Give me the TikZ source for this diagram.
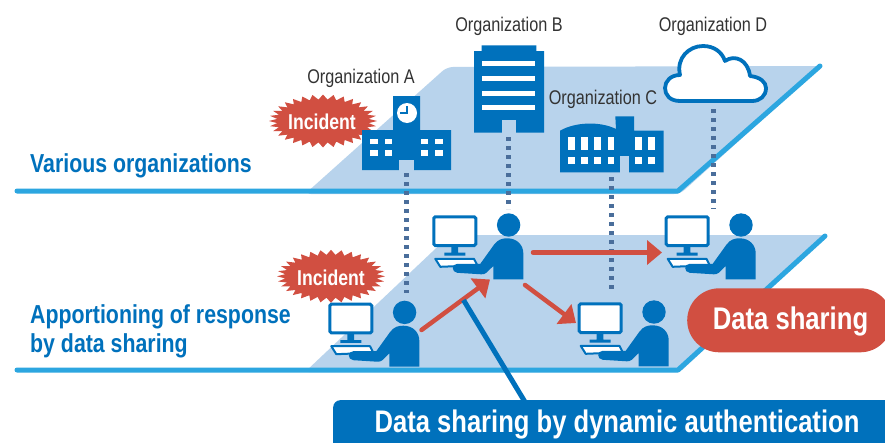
\documentclass[tikz,border=0pt]{standalone}
\usepackage{fontspec}
\setmainfont[FakeStretch=0.82]{Liberation Sans}
\usetikzlibrary{arrows.meta}
\definecolor{bluedark}{HTML}{0071BC}
\definecolor{bluelight}{HTML}{2CA6E0}
\definecolor{plane}{HTML}{B8D3EC}
\definecolor{redc}{HTML}{D14F41}
\definecolor{dotc}{HTML}{4A6E9B}
\definecolor{orgtext}{HTML}{333333}
\tikzset{
  x=1pt,y=-1pt,
  edgeline/.style={draw=bluelight,line width=5pt,line cap=round,line join=round},
  planefill/.style={fill=plane},
  dotline/.style={draw=dotc,line width=5pt,dash pattern=on 4pt off 5pt},
  redarrow/.style={draw=redc,line width=4.5pt,line cap=round,-{Triangle[length=15pt,width=24pt,fill=redc]}},
  orglabel/.style={text=orgtext,font=\fontsize{19.8}{22}\selectfont,inner sep=0pt},
  sidelabel/.style={text=bluedark,font=\bfseries\fontsize{26}{30}\selectfont,inner sep=0pt,anchor=west},
  whitewin/.style={fill=white},
  burstlabel/.style={text=white,font=\bfseries\fontsize{21.5}{22}\selectfont,inner sep=0pt},
  station/.pic={
    \draw[bluedark,line width=3pt,fill=white,rounded corners=1.5pt] (1.5,1.5) rectangle (43.5,30.2);
    \fill[bluedark] (19,31) rectangle (25.7,38) (12,37.3) rectangle (33,40.2);
    \draw[bluedark,line width=2pt,fill=white,line join=round] (3,43.5) -- (41.7,43.5) -- (45,50) -- (8,51.5) -- cycle;
    \fill[bluedark] (76.3,9.7) circle[radius=11.7];
    \fill[bluedark] (61,64) -- (61,50.7) -- (54,57.5) .. controls (52.5,58.8) and (51,59) .. (49,59)
      -- (25,57.5) .. controls (19,57) and (19,48.5) .. (25,48.5) -- (48,48.5) -- (62,29)
      .. controls (66,24) and (70,23) .. (75,23) .. controls (85,23) and (91,30) .. (91,38) -- (91,64) -- cycle;
  },
  burst/.pic={
    \fill[redc] (54,0) \foreach \i in {1,...,63}{ -- ({(50+4*cos(180*\i))*cos(\i*5.625)},{(24+2.5*cos(180*\i))*sin(\i*5.625)}) } -- cycle;
  },
}
\begin{document}
\begin{tikzpicture}
\useasboundingbox (0,0) rectangle (885,442);
\fill[white] (0,0) rectangle (885,442);

% planes
\fill[planefill,rounded corners=6pt] (305,194) -- (447,67) -- (822,66) -- (680,194) -- cycle;
\fill[planefill,rounded corners=4pt] (305,372) -- (450,235) -- (826,235) -- (680,372) -- cycle;
\coordinate (t0) at (17,191); \coordinate (t1) at (678,191); \coordinate (t2) at (820,66);
\coordinate (b0) at (17,370); \coordinate (b1) at (678,370); \coordinate (b2) at (825,236);
\draw[edgeline] (t0) -- (t1) -- (t2);
\draw[edgeline] (b0) -- (b1) -- (b2);

% dotted links
\coordinate (da0) at (406,173); \coordinate (da1) at (406,293);
\coordinate (db0) at (508,137); \coordinate (db1) at (508,209);
\coordinate (dc0) at (611,177); \coordinate (dc1) at (611,293);
\coordinate (dd0) at (713,109); \coordinate (dd1) at (713,209);
\draw[dotline] (da0) -- (da1);
\draw[dotline] (db0) -- (db1);
\draw[dotline] (dc0) -- (dc1);
\draw[dotline] (dd0) -- (dd1);

% bursts
\pic at (323,121) {burst};
\pic at (331,276.3) {burst};
\node[burstlabel] (inc1) at (322,122) {Incident};
\node[burstlabel] (inc2) at (331,278) {Incident};

% School A
\fill[bluedark] (362,130) rectangle (451,170) (393,96) rectangle (420,130);
\fill[plane] (399,160) rectangle (414,170.5);
\fill[white] (407,113) circle[radius=10];
\draw[bluedark,line width=2pt] (406.7,106) -- (406.7,113.3) -- (399.5,113.3);
\foreach \x in {370.3,385,421,435.3}{
  \fill[whitewin] (\x,138.7) rectangle ++(7.4,5.3);
  \fill[whitewin] (\x,150) rectangle ++(7.4,5.7);
}

% Building B
\fill[bluedark] (474,51) rectangle (544,132.7) (481.7,45.3) rectangle (536.3,51.5);
\fill[plane] (501.7,120) rectangle (516.3,133);
\foreach \y in {61,75.7,90.5,105.3}{\fill[whitewin] (482.3,\y) rectangle (535.3,\y+5);}

% Building C
\fill[bluedark] (560,172.3) -- (560,130.7) .. controls (575,122) and (600,121) .. (616,129) -- (615.3,116.3) -- (634,116.3) -- (634,130.7) -- (663.7,130.7) -- (663.7,172.3) -- cycle;
\fill[plane] (620,156) rectangle (629.3,172.5);
\foreach \x in {568,581.3,594.3,607.7,635,648.3}{
  \fill[whitewin] (\x,137) rectangle ++(6.7,13.3);
  \fill[whitewin] (\x,157.3) rectangle ++(6.7,6.7);
}

% Cloud D
\draw[bluedark,line width=3.8pt,fill=white,line join=round]
  (680,101) .. controls (670,101) and (665,95) .. (665,88)
  .. controls (665,81) and (671,75) .. (680,75)
  .. controls (676,58) and (689,46) .. (703,46)
  .. controls (714,46) and (722,52) .. (725,61)
  .. controls (735,54) and (748,60) .. (750,76)
  .. controls (760,77) and (766,82) .. (766,88)
  .. controls (766,96) and (760,101) .. (752,101) -- cycle;

% Organisation labels
\node[orglabel] (orga) at (361,78) {Organization A};
\node[orglabel] (orgb) at (509,26) {Organization B};
\node[orglabel] (orgc) at (603,99) {Organization C};
\node[orglabel] (orgd) at (713,26) {Organization D};

% side labels
\node[sidelabel] (lvar) at (30,166) {Various organizations};
\node[sidelabel] (lapp1) at (30,316.5) {Apportioning of response};
\node[sidelabel] (lapp2) at (30,345.5) {by data sharing};

% workstations
\pic at (328.3,302.7) {station};
\pic at (432.3,215.3) {station};
\pic at (664.7,215.3) {station};
\pic at (577.7,302.3) {station};

% arrows
\coordinate (a0) at (421.5,330); \coordinate (a1) at (490,279.5);
\coordinate (b0a) at (533,252.5); \coordinate (b1a) at (662,252.5);
\coordinate (c0) at (525,285); \coordinate (c1) at (576,323);
\draw[redarrow] (a0) -- (a1);
\draw[redarrow] (b0a) -- (b1a);
\draw[redarrow] (c0) -- (c1);

% bottom banner + pointer
\node[fill=bluedark,rounded corners=7pt,minimum width=570pt,minimum height=60pt,inner sep=0pt,anchor=north west] (banner) at (333,400) {};
\coordinate (p0) at (463.5,300);
\draw[bluedark,line width=5pt] (p0) -- (525,402);
\node[text=white,font=\bfseries\fontsize{31.2}{34}\selectfont,inner sep=0pt] (bantext) at (617,424) {Data sharing by dynamic authentication};

% Data sharing pill
\node[fill=redc,rounded corners=32pt,minimum width=205pt,minimum height=64pt,inner sep=0pt,anchor=west] (pill) at (687,320.3) {};
\node[text=white,font=\bfseries\fontsize{31.3}{34}\selectfont,inner sep=0pt] (pilltext) at (790.5,321) {Data sharing};
\end{tikzpicture}
\end{document}
